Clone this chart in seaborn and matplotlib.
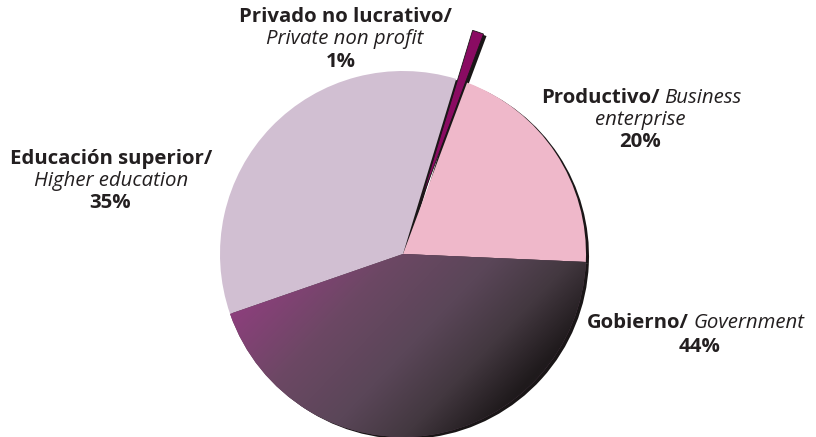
import numpy as np
import matplotlib
matplotlib.use("Agg")
import matplotlib.pyplot as plt
from matplotlib.colors import LinearSegmentedColormap
import seaborn as sns

# -------------------------------
# Data
# -------------------------------
sectors_es = ["Productivo/", "Gobierno/", "Educación superior/", "Privado no lucrativo/"]
sectors_en = ["Business enterprise", "Government", "Higher education", "Private non profit"]
shares = [20, 44, 35, 1]
pct_labels = ["20%", "44%", "35%", "1%"]
colors = ["#efb8ca", "#6a4862", "#d1bfd2", "#8a0b62"]

sns.set_style("white")
plt.rcParams["font.family"] = ["Open Sans", "DejaVu Sans"]
ink = "#231f20"

W, H = 816, 437
fig = plt.figure(figsize=(W / 100, H / 100), dpi=100)
ax = fig.add_axes([0, 0, 1, 1])

cx, cy, r = 403, H - 254, 183
start = 69.5
# matplotlib uses explode as an absolute offset in data units
explode = [0, 0, 0, 0.28 * r]

# shadow of the whole pie, slightly offset right / down
ax.pie(shares, radius=r, center=(cx + 3, cy - 2), startangle=start,
       counterclock=False, explode=explode, colors=["#1a1617"] * 4,
       wedgeprops=dict(linewidth=0))

wedges, _ = ax.pie(shares, radius=r, center=(cx, cy), startangle=start,
                   counterclock=False, explode=explode, colors=colors,
                   wedgeprops=dict(linewidth=0))

# diagonal gradient fill for the Gobierno slice
cmap = LinearSegmentedColormap.from_list(
    "gob", [(0.0, "#8c3f7c"), (0.3, "#6c4864"), (0.58, "#5a4658"),
            (0.8, "#433840"), (1.0, "#1f1a1c")])
xs = np.linspace(cx - r, cx + r, 400)
ys = np.linspace(cy - r, cy + r, 400)
X, Y = np.meshgrid(xs, ys)
u = np.array([0.72, -0.69])
u = u / np.linalg.norm(u)
proj = (X - cx) * u[0] + (Y - cy) * u[1]
t0, t1 = -0.45 * r, 0.98 * r
t = (proj - t0) / (t1 - t0)
img = ax.imshow(np.clip(t, 0, 1), extent=(cx - r, cx + r, cy - r, cy + r),
                origin="lower", cmap=cmap, vmin=0, vmax=1,
                zorder=wedges[1].get_zorder() + 0.1)
img.set_clip_path(wedges[1])

# small dark edge along the exploded strip
wedges[3].set_edgecolor("#1a1617")
wedges[3].set_linewidth(0.6)

ax.set_xlim(0, W)
ax.set_ylim(0, H)
ax.set_aspect("equal")
ax.axis("off")

# -------------------------------
# Labels
# -------------------------------
fs = 14.7
lh = 22


def block(x, y_top, bold, ital, inline=False):
    y = H - y_top
    if inline:
        t1 = ax.text(x, y, bold, ha="left", va="center", fontsize=fs,
                     fontweight="bold", color=ink)
        fig.canvas.draw()
        bb = t1.get_window_extent()
        ax.text(bb.x1 + 5, y, ital, ha="left", va="center", fontsize=fs,
                style="italic", color=ink)
    else:
        ax.text(x, y, bold, ha="center", va="center", fontsize=fs,
                fontweight="bold", color=ink)
        ax.text(x, y - lh, ital, ha="center", va="center", fontsize=fs,
                style="italic", color=ink)


# Privado no lucrativo
block(345, 17, sectors_es[3], sectors_en[3])
ax.text(341, H - 62, pct_labels[3], ha="center", va="center", fontsize=fs,
        fontweight="bold", color=ink)

# Educación superior
block(111, 159, sectors_es[2], sectors_en[2])
ax.text(110, H - 203, pct_labels[2], ha="center", va="center", fontsize=fs,
        fontweight="bold", color=ink)

# Productivo
block(541, 98, sectors_es[0], "Business", inline=True)
ax.text(640, H - 120, "enterprise", ha="center", va="center", fontsize=fs,
        style="italic", color=ink)
ax.text(640, H - 142, pct_labels[0], ha="center", va="center", fontsize=fs,
        fontweight="bold", color=ink)

# Gobierno
block(587, 323, sectors_es[1], sectors_en[1], inline=True)
ax.text(700, H - 347, pct_labels[1], ha="center", va="center", fontsize=fs,
        fontweight="bold", color=ink)

fig.savefig("out.png", dpi=100)
